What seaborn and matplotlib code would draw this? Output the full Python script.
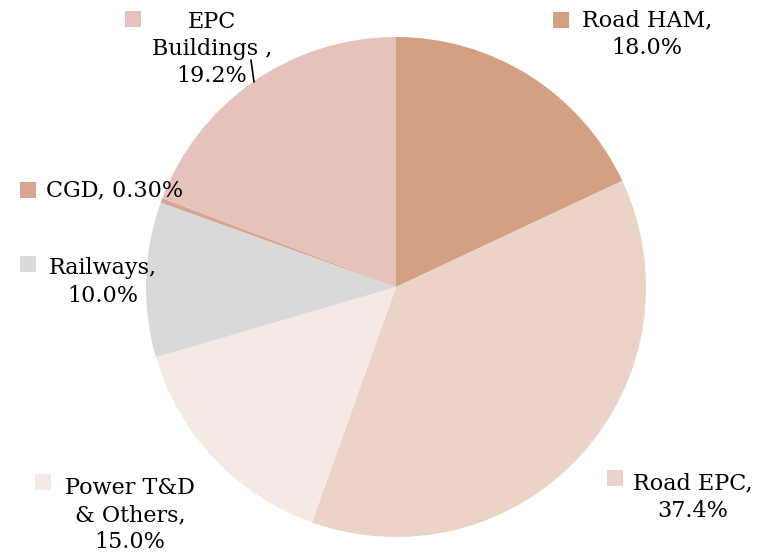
import matplotlib
matplotlib.use("Agg")
import matplotlib.pyplot as plt
import seaborn as sns

segments = ["Road HAM", "Road EPC", "Power T&D & Others", "Railways", "CGD", "EPC Buildings"]
shares = [18.0, 37.4, 15.0, 10.0, 0.30, 19.2]
label_texts = ["Road HAM,\n18.0%", "Road EPC,\n37.4%", "Power T&D\n& Others,\n15.0%",
               "Railways,\n10.0%", "CGD, 0.30%", "EPC\nBuildings ,\n19.2%"]
colors = ["#D4A084", "#EBD3C7", "#F5E9E4", "#D9D9D9", "#D9A593", "#E5C3BC"]

sns.set_theme(style="white")
plt.rcParams['font.family'] = ['DejaVu Serif']

W, H = 767, 560
CX, CY, R = 396, 287, 250

def px(x, y):
    # pixel position -> data coords (pie radius = 1)
    return (x - CX) / R, (CY - y) / R

fig = plt.figure(figsize=(W / 100, H / 100), dpi=100)
ax = fig.add_axes([0, 0, 1, 1])
ax.pie(shares, colors=colors, startangle=90, counterclock=False, radius=1,
       wedgeprops=dict(linewidth=0))
ax.set_xlim(px(0, 0)[0], px(W, 0)[0])
ax.set_ylim(px(0, H)[1], px(0, 0)[1])
ax.set_aspect('equal')
ax.axis('off')

# label layout (pixels): text block centre and key square
text_pos = [(647, 34), (693, 497), (130, 515), (103, 282), (115, 190), (212, 49)]
key_pos = [(561, 20), (615, 478), (43, 482), (28, 264), (28, 190), (133, 19)]

for txt, tp, kp, c in zip(label_texts, text_pos, key_pos, colors):
    x, y = px(*tp)
    ax.text(x, y, txt, ha='center', va='center', fontsize=16, linespacing=1.3, color='black')
    kx, ky = px(*kp)
    ax.scatter([kx], [ky], marker='s', s=120, color=c, linewidths=0)

# leader line for EPC Buildings
a = px(251, 60)
b = px(254, 82)
ax.plot([a[0], b[0]], [a[1], b[1]], color='black', lw=1.2)

fig.savefig("out.png", dpi=100)
